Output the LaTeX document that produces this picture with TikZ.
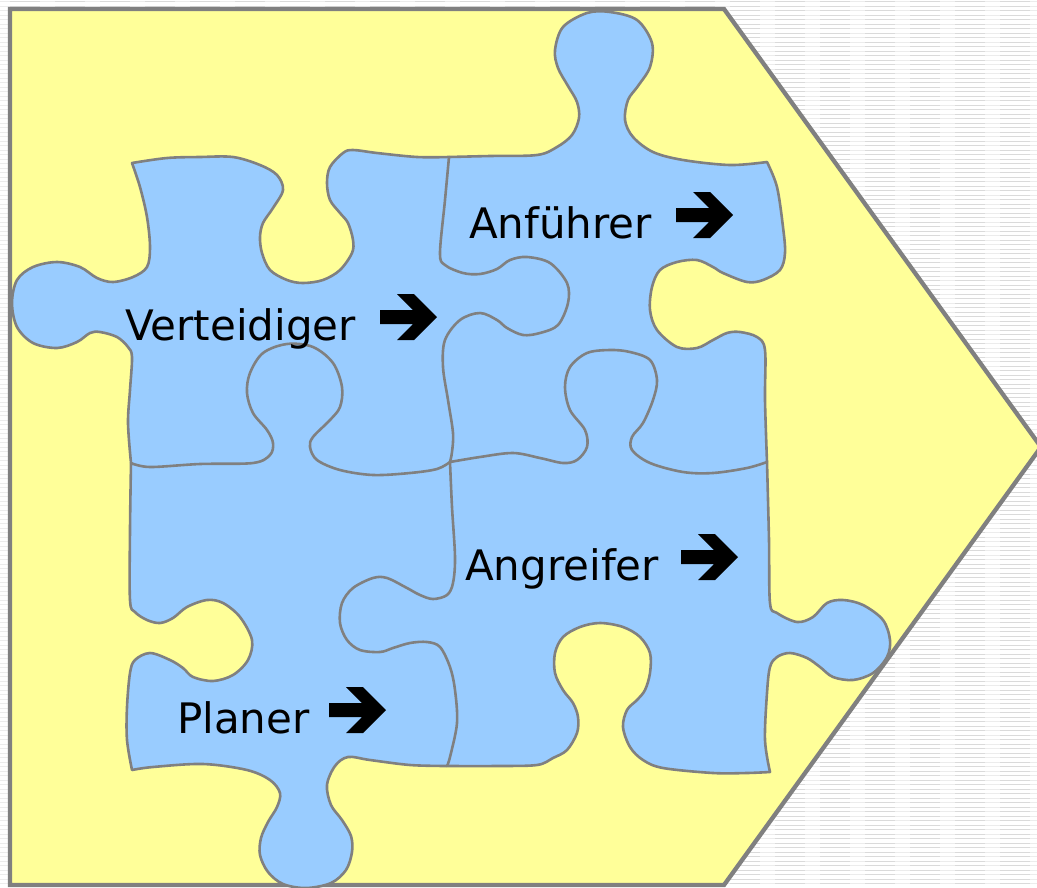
\documentclass[tikz,border=0pt]{standalone}
\usepackage{fontspec}
\setmainfont{DejaVu Sans}
\definecolor{bgyellow}{HTML}{FFFF99}
\definecolor{pieceblue}{HTML}{99CCFF}
\definecolor{edgegray}{HTML}{808080}
\definecolor{stripegray}{HTML}{DADADA}
\definecolor{stripelight}{HTML}{ECECEC}
\tikzset{
  stripe/.style={draw=stripegray,line width=1pt},
  pentagon/.style={fill=bgyellow,draw=edgegray,line width=4.3pt,line join=miter},
  piece/.style={fill=pieceblue,draw=edgegray,line width=2.6pt,line join=round},
  seam/.style={draw=edgegray,line width=2.6pt,line cap=round},
  label/.style={anchor=base west,inner sep=0pt,font=\fontsize{42}{50}\selectfont},
  pics/heavyarrow/.style={code={
    \fill[black] (0,-7) -- (33,-7) -- (17,-23) -- (34,-23) -- (57,0) -- (34,23)
      -- (17,23) -- (33,7) -- (0,7) -- cycle;}}
}
\begin{document}
\begin{tikzpicture}[x=1pt,y=-1pt]
\useasboundingbox (0,0) rectangle (1037,887);
\clip (0,0) rectangle (1037,887);
% striped background
\fill[white] (0,0) rectangle (1037,887);
\foreach \yy in {1.5,6,...,886}{
  \draw[stripe] (0,\yy) -- (1037,\yy);
  \draw[draw=stripelight,line width=1pt,dash pattern=on 15pt off 30pt,dash phase=5pt] (0,\yy) -- (1037,\yy);
}
% yellow arrow-shaped panel
\path[pentagon] (10,9) -- (724,9) -- (1041,447) -- (724,885) -- (10,885) -- cycle;
% outer outline of the four pieces
\path[piece]
  plot[smooth,tension=0.55] coordinates {(132,163) (167,158) (200,157) (233,157) (260,165) (277,175) (283,190) (273,208) (263,223) (260,237) (262,253) (270,270) (287,280) (303,283) (323,280) (340,270) (352,253) (353,240) (348,223) (340,213) (330,200) (327,183) (330,167) (343,153) (353,150) (377,153) (417,157) (449,157)}
  -- plot[smooth,tension=0.55] coordinates {(449,157) (490,156) (537,155) (557,147) (572,135) (579,118) (577,102) (568,86) (558,68) (555,50) (563,27) (587,13) (610,12) (637,20) (652,43) (650,67) (638,86) (628,100) (625,120) (633,137) (653,152) (683,160) (730,165) (767,162)}
  -- plot[smooth,tension=0.55] coordinates {(767,162) (777,187) (783,227) (785,253) (780,270) (763,280) (747,282) (723,273) (713,267) (697,260) (677,262) (660,270) (652,287) (650,310) (657,330) (677,347) (697,348) (713,340) (727,333) (740,332) (757,337) (765,350) (765,400) (767,462)}
  -- plot[smooth,tension=0.55] coordinates {(767,462) (769,540) (770,603) (777,613) (797,622) (813,617) (827,603) (843,600) (863,605) (883,620) (890,640) (887,657) (873,673) (853,680) (833,677) (820,667) (807,658) (790,653) (777,657) (770,667) (767,693) (765,740) (770,772)}
  -- plot[smooth,tension=0.55] coordinates {(770,772) (747,773) (713,773) (663,768) (643,760) (630,747) (623,727) (627,710) (637,700) (645,690) (650,673) (650,653) (640,637) (623,627) (600,623) (580,627) (563,637) (555,653) (555,673) (563,690) (573,703) (578,717) (577,733) (567,750) (553,758) (537,765) (497,766) (447,766)}
  -- plot[smooth,tension=0.55] coordinates {(447,766) (410,765) (370,760) (348,757) (335,766) (327,785) (331,805) (342,820) (351,836) (352,852) (346,870) (331,883) (306,888) (283,884) (268,872) (260,855) (261,838) (268,822) (277,807) (280,793) (270,780) (247,770) (203,764) (153,767) (132,770)}
  -- plot[smooth,tension=0.55] coordinates {(132,770) (127,740) (127,707) (130,673) (135,660) (150,653) (170,660) (183,668) (193,677) (213,681) (233,675) (248,660) (252,640) (240,617) (223,603) (207,600) (187,607) (173,618) (160,623) (147,620) (135,612) (130,600) (130,530) (131,463)}
  -- plot[smooth,tension=0.55] coordinates {(131,463) (128,423) (130,390) (132,357) (128,347) (117,337) (100,332) (90,333) (77,342) (57,348) (33,343) (17,327) (12,303) (17,280) (33,267) (57,262) (80,267) (97,278) (113,282) (133,277) (147,267) (150,247) (147,217) (140,187) (132,163)}
  -- cycle;
% seams between the pieces
\draw[seam] plot[smooth,tension=0.55] coordinates {(449,157) (445,200) (440,253) (445,265) (463,273) (480,274) (497,269) (510,260) (527,257) (550,263) (567,283) (568,303) (558,325) (540,333) (523,335) (507,328) (497,320) (480,313) (460,320) (445,340) (443,367) (448,400) (453,433) (452,452) (450,462)};
\draw[seam] plot[smooth,tension=0.55] coordinates {(131,463) (150,467) (200,464) (253,463) (270,455) (273,443) (267,430) (253,413) (247,393) (250,373) (263,353) (287,344) (313,347) (333,363) (342,387) (340,407) (330,420) (313,437) (310,447) (317,460) (340,470) (373,475) (410,473) (437,469) (450,462)};
\draw[seam] plot[smooth,tension=0.55] coordinates {(767,462) (747,468) (713,473) (683,472) (650,463) (632,450) (632,437) (643,423) (653,400) (657,380) (650,360) (630,352) (610,350) (587,353) (570,367) (565,387) (570,410) (585,430) (587,447) (577,460) (563,463) (540,458) (513,453) (480,457) (450,462)};
\draw[seam] plot[smooth,tension=0.55] coordinates {(450,462) (452,507) (455,557) (453,583) (447,595) (433,599) (420,595) (407,588) (387,578) (373,578) (353,588) (342,603) (340,623) (347,640) (360,650) (380,652) (393,648) (410,643) (427,642) (440,647) (450,667) (455,690) (457,723) (450,757) (447,766)};
% labels
\node[label] (verteidiger) at (125,340) {Verteidiger};
\node[label] (anfuehrer) at (469,238) {Anführer};
\node[label] (angreifer) at (465,580) {Angreifer};
\node[label] (planer) at (177,733) {Planer};
\pic (arrowV) at (380,317) {heavyarrow};
\pic (arrowF) at (676,215) {heavyarrow};
\pic (arrowA) at (681,557) {heavyarrow};
\pic (arrowP) at (329,710) {heavyarrow};
\end{tikzpicture}
\end{document}
